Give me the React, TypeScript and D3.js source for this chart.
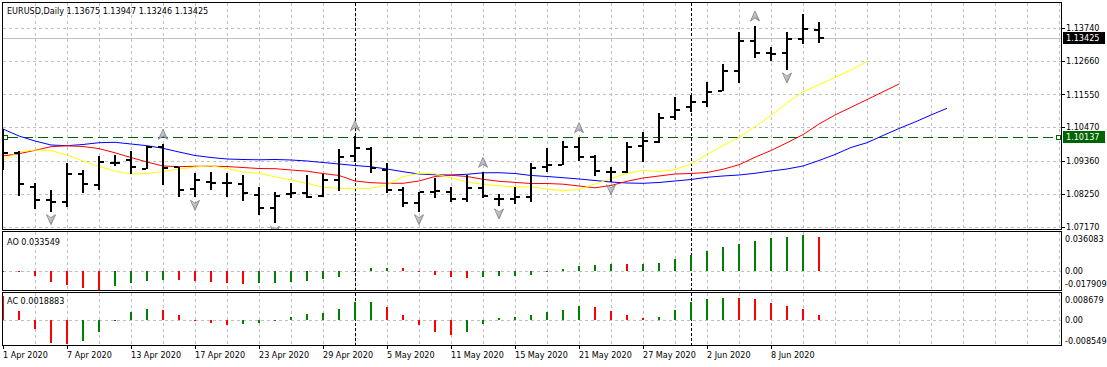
import React from "react";
import * as d3 from "d3";

// trading days shown on the chart
const dates = [
  "2020-04-01", "2020-04-02", "2020-04-03", "2020-04-06", "2020-04-07", "2020-04-08", "2020-04-09", "2020-04-10",
  "2020-04-13", "2020-04-14", "2020-04-15", "2020-04-16", "2020-04-17", "2020-04-20", "2020-04-21", "2020-04-22",
  "2020-04-23", "2020-04-24", "2020-04-27", "2020-04-28", "2020-04-29", "2020-04-30", "2020-05-01", "2020-05-04",
  "2020-05-05", "2020-05-06", "2020-05-07", "2020-05-08", "2020-05-11", "2020-05-12", "2020-05-13", "2020-05-14",
  "2020-05-15", "2020-05-18", "2020-05-19", "2020-05-20", "2020-05-21", "2020-05-22", "2020-05-25", "2020-05-26",
  "2020-05-27", "2020-05-28", "2020-05-29", "2020-06-01", "2020-06-02", "2020-06-03", "2020-06-04", "2020-06-05",
  "2020-06-08", "2020-06-09", "2020-06-10", "2020-06-11",
];

const opens = [
  1.0971, 1.096, 1.08496, 1.08054, 1.07977, 1.08915, 1.08551, 1.09291, 1.09379, 1.09081, 1.0982, 1.09136, 1.08408,
  1.08639, 1.08606, 1.08573, 1.0822, 1.07778, 1.08253, 1.08275, 1.08198, 1.08717, 1.09522, 1.09743, 1.09048, 1.08385,
  1.07966, 1.0833, 1.0833, 1.08087, 1.08463, 1.08076, 1.08087, 1.08143, 1.09158, 1.09224, 1.0982, 1.09489, 1.08992,
  1.0897, 1.09854, 1.09964, 1.10792, 1.11145, 1.11311, 1.11675, 1.12326, 1.13331, 1.12911, 1.12911, 1.13375, 1.13675,
];
const highs = [
  1.104, 1.09688, 1.08606, 1.08385, 1.09269, 1.09048, 1.09511, 1.09544, 1.09677, 1.09854, 1.09898, 1.09158, 1.08937,
  1.0897, 1.08937, 1.08882, 1.08474, 1.08308, 1.08606, 1.08882, 1.08904, 1.09732, 1.10185, 1.09798, 1.09269, 1.08474,
  1.0833, 1.08794, 1.08496, 1.08882, 1.0897, 1.08242, 1.08496, 1.09269, 1.09787, 1.10008, 1.10118, 1.09544, 1.09136,
  1.09986, 1.10317, 1.10946, 1.11454, 1.11531, 1.11973, 1.12547, 1.13629, 1.13816, 1.1311, 1.13606, 1.14203, 1.13947,
];
const lows = [
  1.09048, 1.08198, 1.07745, 1.07668, 1.07834, 1.08297, 1.08385, 1.09191, 1.08915, 1.0907, 1.08551, 1.08165, 1.08143,
  1.08385, 1.08165, 1.08032, 1.07558, 1.07282, 1.0811, 1.0811, 1.08165, 1.08352, 1.09324, 1.08959, 1.08275, 1.07834,
  1.07668, 1.08132, 1.07999, 1.07999, 1.0811, 1.07856, 1.07922, 1.07999, 1.08992, 1.09213, 1.09357, 1.0886, 1.08661,
  1.08959, 1.09324, 1.09931, 1.10703, 1.10979, 1.11145, 1.11664, 1.1194, 1.12768, 1.12668, 1.12359, 1.13209, 1.13246,
];
const closes = [
  1.09622, 1.08584, 1.08054, 1.07999, 1.08915, 1.08573, 1.09302, 1.0928, 1.09158, 1.0982, 1.09125, 1.08385, 1.08717,
  1.0863, 1.0861, 1.08275, 1.07778, 1.08187, 1.08275, 1.08165, 1.08717, 1.09489, 1.09787, 1.09103, 1.08385, 1.07944,
  1.08308, 1.08352, 1.08087, 1.08463, 1.08198, 1.08087, 1.08165, 1.09103, 1.09213, 1.0982, 1.09489, 1.09026, 1.08985,
  1.0982, 1.10019, 1.10759, 1.11035, 1.11311, 1.11642, 1.12326, 1.13331, 1.12933, 1.12905, 1.13375, 1.13706, 1.13425,
];

// alligator lines (jaw shifted 8 bars, teeth 5, lips 3)
const jaw = [
  1.10405, 1.10173, 1.10008, 1.09875, 1.09852, 1.09892, 1.09952, 1.09965, 1.09909, 1.09852, 1.09766, 1.09644, 1.09528,
  1.09462, 1.09412, 1.09395, 1.09385, 1.09395, 1.09379, 1.09346, 1.09296, 1.09246, 1.09197, 1.09154, 1.09081, 1.08991,
  1.08915, 1.08889, 1.08882, 1.08905, 1.08955, 1.08958, 1.08932, 1.08866, 1.08833, 1.08793, 1.0875, 1.087, 1.0865,
  1.08617, 1.08607, 1.08634, 1.08683, 1.08733, 1.08806, 1.08849, 1.08882, 1.08938, 1.09014, 1.09081, 1.0918, 1.09362,
  1.09561, 1.09793, 1.09952, 1.1019, 1.10422, 1.10637, 1.10869, 1.11091,
];
const teeth = [
  1.09511, 1.09587, 1.097, 1.09819, 1.09849, 1.09826, 1.09756, 1.09617, 1.09461, 1.09312, 1.0918, 1.0916, 1.0917,
  1.09173, 1.09163, 1.0913, 1.09097, 1.09091, 1.09048, 1.09008, 1.08932, 1.08866, 1.08683, 1.08627, 1.08607, 1.08607,
  1.08683, 1.08833, 1.08872, 1.08833, 1.0874, 1.08674, 1.08637, 1.08601, 1.08601, 1.08578, 1.08518, 1.08458, 1.08535,
  1.08674, 1.08783, 1.08849, 1.08915, 1.08932, 1.08965, 1.09071, 1.09223, 1.09468, 1.09693, 1.09948, 1.1022, 1.10571,
  1.10869, 1.11124, 1.11379, 1.11637, 1.11895,
];
const lips = [
  1.09379, 1.09644, 1.0971, 1.09687, 1.09544, 1.09346, 1.0917, 1.09014, 1.08915, 1.08932, 1.08998, 1.09081, 1.09147,
  1.09187, 1.09097, 1.08981, 1.08942, 1.08822, 1.08716, 1.0861, 1.08474, 1.08441, 1.08441, 1.08445, 1.08551, 1.08826,
  1.08935, 1.08922, 1.08789, 1.0865, 1.08574, 1.08524, 1.08494, 1.08485, 1.08418, 1.08362, 1.08405, 1.08584, 1.08756,
  1.08938, 1.09038, 1.08994, 1.09064, 1.09246, 1.09561, 1.09859, 1.1013, 1.10485, 1.10852, 1.11266, 1.1164, 1.11869,
  1.12111, 1.12359, 1.12634,
];

const upFractals = [10, 22, 30, 36, 47];
const downFractals = [3, 12, 17, 26, 31, 38, 49];

const aoBefore = 0.0001;
const ao = [
  0.0003, -0.0002, -0.0042, -0.0102, -0.0135, -0.0165, -0.017909, -0.0141, -0.0111, -0.0092, -0.0086, -0.0088, -0.0096,
  -0.0105, -0.0115, -0.0125, -0.0116, -0.0113, -0.0108, -0.0095, -0.0079, -0.0056, -0.0003, 0.0033, 0.0035, 0.0031,
  0.0002, -0.0036, -0.0056, -0.0066, -0.0056, -0.0046, -0.0045, -0.0036, -0.0005, 0.0023, 0.0052, 0.0062, 0.0072,
  0.0071, 0.0073, 0.0086, 0.0121, 0.0161, 0.02, 0.024, 0.0273, 0.0299, 0.0329, 0.0339, 0.036083, 0.033549,
];
const acBefore = 0.0095;
const ac = [
  0.008679, 0.0033, -0.003, -0.0082, -0.008549, -0.0074, -0.0042, 0.0002, 0.003, 0.0041, 0.0039, 0.0019, 0.0001,
  -0.001, -0.0017, -0.0015, -0.0009, -0.0002, 0.0012, 0.0023, 0.0026, 0.0041, 0.0066, 0.0067, 0.0047, 0.0018, -0.0016,
  -0.0041, -0.0052, -0.0041, -0.0012, 0.0008, 0.0012, 0.0019, 0.003, 0.0037, 0.0052, 0.0048, 0.0034, 0.0019, 0.0008,
  0.0012, 0.0037, 0.0066, 0.0077, 0.0081, 0.008, 0.0077, 0.0063, 0.0052, 0.0041, 0.0018883,
];

const priceTicks = [1.1374, 1.1266, 1.1155, 1.1047, 1.0936, 1.0825, 1.0717];
const aoTicks = [0.036083, 0, -0.017909];
const acTicks = [0.008679, 0, -0.008549];
const hLine = 1.10137;
const bid = 1.13425;

const W = 1107;
const H = 367;
const RIGHT = 1061;
const FONT = "Tahoma, 'DejaVu Sans Condensed', 'DejaVu Sans', sans-serif";
const months = ["Jan", "Feb", "Mar", "Apr", "May", "Jun", "Jul", "Aug", "Sep", "Oct", "Nov", "Dec"];

const x = d3.scaleLinear().domain([0, 1]).range([3, 19]);
const y = d3.scaleLinear().domain([1.0717, 1.1374]).range([226.7, 28.3]);
const yAO = d3.scaleLinear().domain([-0.017909, 0.036083]).range([289.5, 234.7]);
const yAC = d3.scaleLinear().domain([-0.008549, 0.008679]).range([344, 296.3]);

const crisp = (v: number) => Math.round(v) + 0.5;

function fmtDate(s: string) {
  const [yy, mm, dd] = s.split("-").map(Number);
  return `${dd} ${months[mm - 1]} ${yy}`;
}

const upPath = "M0,-5L4.5,5L0,2L-4.5,5Z";
const downPath = "M0,5L4.5,-5L0,-2L-4.5,-5Z";

function Histogram({ values, before, scale }: { values: number[]; before: number; scale: d3.ScaleLinear<number, number> }) {
  const z = Math.round(scale(0));
  return (
    <g>
      {values.map((v, i) => {
        const prev = i === 0 ? before : values[i - 1];
        const yv = Math.round(scale(v));
        const top = Math.min(yv, z);
        const h = Math.max(1, Math.abs(yv - z));
        return <rect key={i} x={x(i) - 1} y={top} width={2} height={h} fill={v > prev ? "#008000" : "#ff0000"} />;
      })}
    </g>
  );
}

export default function App() {
  const n = closes.length;
  const gridX = d3.range(1, 34).map((k) => 3 + 32 * k);
  const sepIdx = dates.map((d, i) => (i > 0 && d.slice(5, 7) !== dates[i - 1].slice(5, 7) ? i : -1)).filter((i) => i >= 0);
  const labelIdx = d3.range(0, n, 4);
  const line = (arr: number[]) =>
    d3
      .line<number>()
      .x((_, i) => x(i))
      .y((d) => y(d))(arr) || "";

  return (
    <div style={{ position: "absolute", left: 0, top: 0 }}>
      <svg width={W} height={H} style={{ display: "block", background: "#fff" }} fontFamily={FONT} fontSize={9}>
        <defs>
          <clipPath id="mainClip">
            <rect x={3} y={3} width={RIGHT - 3} height={226} />
          </clipPath>
          <linearGradient id="fr" x1="0" y1="0" x2="1" y2="1">
            <stop offset="0" stopColor="#e8ecf4" />
            <stop offset="1" stopColor="#8a90a8" />
          </linearGradient>
        </defs>

        {/* grid */}
        <g stroke="#c0c0c0" strokeDasharray="3,3" strokeWidth={1}>
          {gridX.map((gx) => (
            <g key={gx}>
              <line x1={gx + 0.5} x2={gx + 0.5} y1={3} y2={229} />
              <line x1={gx + 0.5} x2={gx + 0.5} y1={232} y2={290} />
              <line x1={gx + 0.5} x2={gx + 0.5} y1={293} y2={345} />
            </g>
          ))}
          {priceTicks.map((t) => (
            <line key={t} x1={3} x2={RIGHT} y1={crisp(y(t))} y2={crisp(y(t))} />
          ))}
          <line x1={3} x2={RIGHT} y1={crisp(yAO(0))} y2={crisp(yAO(0))} />
          <line x1={3} x2={RIGHT} y1={crisp(yAC(0))} y2={crisp(yAC(0))} />
        </g>

        {/* month separators */}
        <g stroke="#000" strokeDasharray="3,2">
          {sepIdx.map((i) => (
            <line key={i} x1={x(i) + 0.5} x2={x(i) + 0.5} y1={3} y2={345} />
          ))}
        </g>

        <g clipPath="url(#mainClip)">
          {/* bid line */}
          <line x1={3} x2={RIGHT} y1={crisp(y(bid))} y2={crisp(y(bid))} stroke="#c0c0c0" />
          {/* horizontal level */}
          <line x1={8} x2={1056} y1={crisp(y(hLine))} y2={crisp(y(hLine))} stroke="#006400" strokeDasharray="10,5" />
          <rect x={3.5} y={crisp(y(hLine)) - 2} width={4} height={4} fill="#fff" stroke="#006400" />
          <rect x={1056.5} y={crisp(y(hLine)) - 2} width={4} height={4} fill="#fff" stroke="#006400" />

          {/* alligator */}
          <path d={line(jaw)} fill="none" stroke="#0000ff" strokeWidth={1} />
          <path d={line(teeth)} fill="none" stroke="#ff0000" strokeWidth={1} />
          <path d={line(lips)} fill="none" stroke="#ffff00" strokeWidth={1} />

          {/* OHLC bars */}
          {closes.map((c, i) => {
            const xc = x(i);
            const yh = Math.round(y(highs[i]));
            const yl = Math.round(y(lows[i]));
            const yo = Math.round(y(opens[i]));
            const yc = Math.round(y(c));
            return (
              <g key={i} fill="#000">
                <rect x={xc - 1} y={yh} width={2} height={Math.max(1, yl - yh)} />
                <rect x={xc - 5} y={yo - 1} width={4} height={2} />
                <rect x={xc + 1} y={yc - 1} width={4} height={2} />
              </g>
            );
          })}

          {/* fractals */}
          {upFractals.map((i) => (
            <path key={"u" + i} d={upPath} transform={`translate(${x(i)},${y(highs[i]) - 10})`} fill="url(#fr)" stroke="#7c7c7c" strokeWidth={0.8} />
          ))}
          {downFractals.map((i) => (
            <path key={"d" + i} d={downPath} transform={`translate(${x(i)},${y(lows[i]) + 8})`} fill="url(#fr)" stroke="#7c7c7c" strokeWidth={0.8} />
          ))}
        </g>

        {/* AO / AC */}
        <Histogram values={ao} before={aoBefore} scale={yAO} />
        <Histogram values={ac} before={acBefore} scale={yAC} />

        {/* panel frames */}
        <g fill="none" stroke="#000">
          <rect x={2.5} y={2.5} width={RIGHT - 2} height={227} />
          <rect x={2.5} y={231.5} width={RIGHT - 2} height={59} />
          <rect x={2.5} y={292.5} width={RIGHT - 2} height={53} />
        </g>

        {/* price axis */}
        <g fill="#000">
          {priceTicks.map((t) => (
            <g key={t}>
              <line x1={RIGHT + 1} x2={RIGHT + 4} y1={crisp(y(t))} y2={crisp(y(t))} stroke="#000" />
              <text x={1066} y={y(t)} dy="0.35em">{t.toFixed(5)}</text>
            </g>
          ))}
        </g>
        <rect x={1063} y={Math.round(y(bid)) - 6} width={42} height={12} fill="#000" />
        <text x={1066} y={y(bid)} dy="0.35em" fill="#fff">{bid.toFixed(5)}</text>
        <rect x={1063} y={Math.round(y(hLine)) - 6} width={42} height={12} fill="#006400" />
        <text x={1066} y={y(hLine)} dy="0.35em" fill="#fff">{hLine.toFixed(5)}</text>

        {/* indicator axes */}
        <g fill="#000">
          <text x={1065} y={238.7} dy="0.35em">{aoTicks[0].toFixed(6)}</text>
          <text x={1065} y={yAO(0)} dy="0.35em">0.00</text>
          <text x={1065} y={283.7} dy="0.35em">{aoTicks[2].toFixed(6)}</text>
          <text x={1065} y={299.7} dy="0.35em">{acTicks[0].toFixed(6)}</text>
          <text x={1065} y={yAC(0)} dy="0.35em">0.00</text>
          <text x={1065} y={340.7} dy="0.35em">{acTicks[2].toFixed(6)}</text>
        </g>

        {/* date axis */}
        <g fill="#000">
          {labelIdx.map((i) => (
            <g key={i}>
              <line x1={x(i) + 0.5} x2={x(i) + 0.5} y1={346} y2={349} stroke="#000" />
              <text x={x(i)} y={358}>{fmtDate(dates[i])}</text>
            </g>
          ))}
        </g>

        {/* titles */}
        <text x={7} y={14} fill="#000">
          {`EURUSD,Daily  ${opens[n - 1].toFixed(5)} ${highs[n - 1].toFixed(5)} ${lows[n - 1].toFixed(5)} ${closes[n - 1].toFixed(5)}`}
        </text>
        <text x={7} y={245} fill="#000">{`AO ${ao[n - 1].toFixed(6)}`}</text>
        <text x={7} y={304} fill="#000">{`AC ${ac[n - 1].toFixed(7)}`}</text>
      </svg>
    </div>
  );
}
